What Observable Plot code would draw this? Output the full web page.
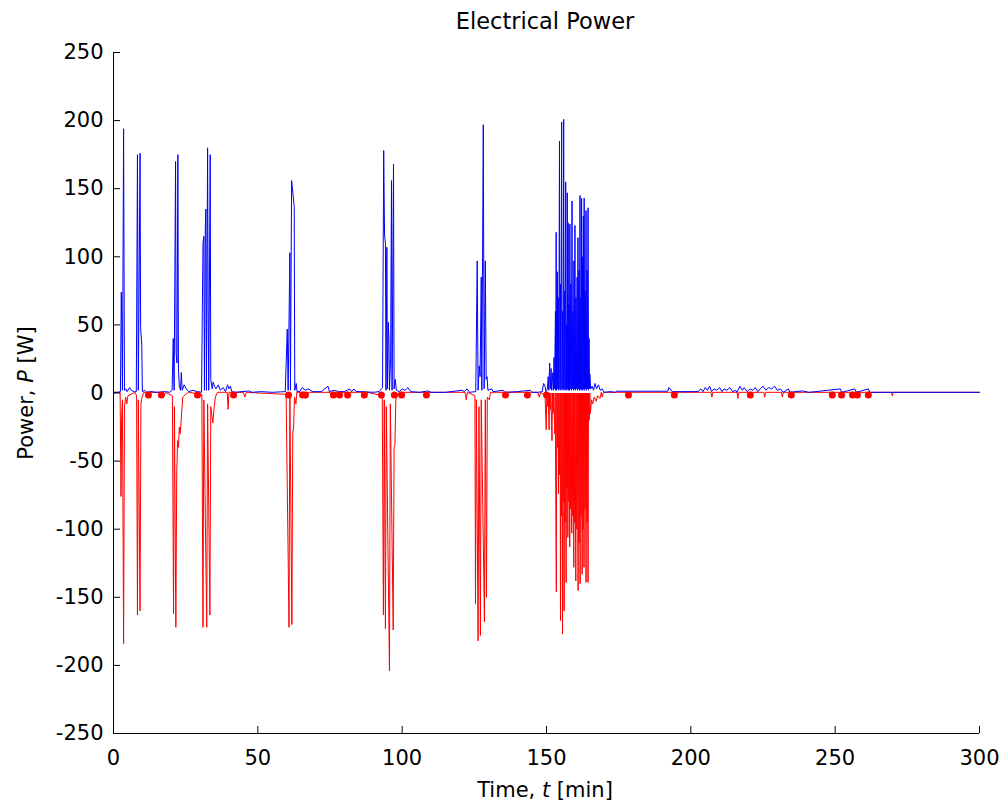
<!DOCTYPE html>
<html><head><meta charset="utf-8">
<script src="https://cdn.jsdelivr.net/npm/d3@7"></script>
<script src="https://cdn.jsdelivr.net/npm/@observablehq/plot@0.6"></script>
<style>body{margin:0;background:#fff}</style>
</head><body><div id="chart"></div>
<script>
const titleText = "Electrical Power";
const xTicks = [0, 50, 100, 150, 200, 250, 300];
const yTicks = [-250, -200, -150, -100, -50, 0, 50, 100, 150, 200, 250];

// positive power (blue) [time min, power W]
const bluePoints = [
  [0,0.5],[1.5,0.5],[2.4,1],[2.7,74],[2.9,50],[3.1,2],[3.5,194],[3.8,2],[4.3,3],[4.7,1],[5.6,4],[6.2,2],[7.2,1],[7.9,1],
  [8.3,175],[8.6,2],[9.2,176],[9.4,48],[9.8,35],[10.0,1],[10.8,2],[11.5,0.5],[13,1],[15,0.5],[18,1],[19.5,0.5],[20.3,2],
  [20.7,40],[21.0,2],[21.5,170],[21.7,29],[22.0,22],[22.3,175],[22.5,18],[22.8,5],[23.2,2],[23.5,15],[23.8,2],[24.5,6],[25.2,3],[26,1],[27.5,2],[29,1],[30.5,0.5],
  [31.0,110],[31.3,115],[31.5,2],[31.8,120],[32.0,135],[32.2,2],[32.6,180],[32.8,60],[33.0,2],[33.5,175],[33.7,10],[34.2,3],[34.5,8],[35,5],[35.5,3],[36.3,6],[37,2],[38,4],[38.8,1],[39.5,6],[40,3],[40.5,5],[41,1],[42,0.5],
  [47,1.5],[48,0.5],[51,1],[55,0.5],[59.5,1],
  [60.2,47],[60.5,2],[61.1,103],[61.3,2],[61.7,156],[62.6,137],[62.8,2],[63.3,7],[63.6,1],[64.5,1],[65.4,4],[66.5,2],[67.5,3],[69,1],[72,1],[74.3,5],[74.8,1],[76.5,2],[78,1],[80,1],[81.8,3],[82.5,1],[83.3,3],[84,1],[86,1],[90,0.5],[92,1],[93.2,4],
  [93.6,178],[93.9,116],[94.2,110],[94.4,2],[94.7,107],[94.9,3],[95.2,52],[95.4,40],[95.6,2],[96.0,25],[96.3,156],[96.5,2],[97.0,168],[97.2,3],[97.6,10],[98,2],[99,1],[100,3],[101,2],[102,4],[103,1],[106,0.5],
  [109,1.5],[110,0.5],[115,0.5],[120.8,2],[121.5,1],[122.5,3],[123.3,0.5],[125.5,1],
  [126.0,97],[126.3,2],[126.7,20],[127.0,12],[127.4,85],[127.6,2],[128.1,197],[128.4,3],[128.8,97],[129.1,10],[129.4,12],[129.7,2],[131,3],[131.5,1],[135,2],[135.5,0.5],[140,1],[144.4,2],[145,0.5],[147,0.5],
  [148.5,1],[149.0,7],[149.5,5],[149.8,1],[150.3,3],[150.6,12],[150.8,2],[151.1,22],[151.3,3],[151.6,18],[151.8,2],[152.2,15],[152.4,2],[152.6,26],[152.8,3],
  [153.1,60],[153.2,2],[153.35,118],[153.5,2],[153.75,89],[153.9,3],[154.1,70],[154.25,2],[154.5,185],[154.65,3],[154.85,80],[155.0,2],[155.25,199],[155.4,3],[155.6,60],[155.75,2],[155.95,201],[156.1,3],[156.3,75],[156.45,2],[156.65,155],[156.8,3],[156.95,50],[157.05,2],[157.2,147],[157.35,3],[157.5,125],[157.65,2],[157.8,65],[157.95,2],[158.1,124],[158.25,3],[158.45,80],[158.6,2],[158.85,141],[159.0,3],[159.2,60],[159.35,2],[159.5,97],[159.65,3],[159.85,123],[160.0,2],[160.2,70],[160.35,3],[160.6,85],[160.75,2],[160.9,114],[161.05,3],[161.25,90],[161.4,2],[161.6,145],[161.75,3],[161.9,70],[162.0,2],[162.15,143],[162.3,3],[162.45,100],[162.6,2],[162.75,130],[162.9,3],[163.05,143],[163.2,2],[163.4,75],[163.55,3],[163.7,134],[163.85,2],[164.05,90],[164.2,3],[164.4,136],[164.55,2],[164.75,40],[164.9,3],[165.0,14],[165.3,3],
  [165.8,5],[166.3,2],[166.8,7],[167.3,3],[168,6],[168.6,2],[169.3,3],[170,0.5],[172,1],[173.9,0.5],[174.2,1.3],[192,1.3],[192.4,4],[193.6,1],[202.5,1],
  [203.5,3],[204.2,1],[205,4],[205.7,2],[206.5,5],[207.2,1],[208,3],[209,2],[210,4],[210.8,1],[211.5,3],[212.5,2],[213.5,4],[214.5,1],[215.5,2],[216,0.5],[217,5],[217.8,2],[218.5,4],[219.5,1],[220.5,3],[221.5,2],[222.3,4],[223.2,1],[224,3],[225,5],[226,2],[227,4],[228,3],[229,5],[230,2],[231,3],[232,0.5],
  [233.8,3],[234.3,0.5],[238.6,1.5],[241,0.5],[251.8,3],[252.3,0.5],[256.8,3],[257.3,0.5],[261.5,3],[262,0.5],[270,0.5],[300,0.5]
];

// negative power (red) [time min, power W]
const redPoints = [
  [0,0.5],[2.3,0.5],[2.6,-76],[2.8,-20],[3.1,-5],[3.5,-184],[3.8,-10],[4.2,-3],[4.6,-8],[5,-2],[7.5,0.5],[8.0,-2],
  [8.3,-163],[8.6,-5],[9.2,-160],[9.5,-8],[9.9,-3],[10.5,0.5],[17,0.5],[17.5,-2],[18,0.5],[20.4,-2],
  [20.8,-162],[21.1,-10],[21.6,-172],[21.9,-60],[22.2,-35],[22.5,-40],[22.8,-25],[23.1,-30],[23.5,-18],[24,-3],[25,-1],[26,0.5],[30.6,-1],
  [31.0,-172],[31.3,-5],[32.3,-172],[32.6,-8],[33.4,-163],[33.7,-10],[34.4,-22],[34.9,-10],[35.3,-3],[36,0.5],[39.4,0.5],[39.7,-12],[40,0.5],[42,0.5],
  [45,0.5],[45.5,-3],[46,0.5],[59.8,-1],[60.8,-172],[61.1,-3],[61.8,-170],[62.1,-30],[62.4,-25],[62.7,-3],[63.2,-8],[63.5,0.5],[66,0.5],[66.5,-4],[67,0.5],[75,0.5],[75.5,-3],[76,0.5],[87,0.5],[87.5,-2],[88,0.5],[93.1,-2],
  [93.5,-163],[93.8,-5],[94.2,-173],[94.5,-10],[95.6,-204],[95.9,-8],[96.9,-174],[97.2,-40],[97.5,-38],[97.8,-5],[98.3,-2],[99,0.5],[108,0.5],[108.5,-3],[109,0.5],[121.8,0.5],[122.2,-5],[122.6,0.5],[125.2,-2],
  [125.4,-155],[125.7,-5],[126.3,-182],[126.6,-10],[127.1,-178],[127.4,-5],[128.5,-168],[128.8,-5],[129.2,-150],[129.5,-3],[130.2,-5],[130.6,0.5],[147,0.5],[147.5,-3],[148,0.5],[149.5,-2],
  [149.9,-27],[150.1,0],[150.45,-10],[150.6,0],[150.9,-27],[151.05,0],[151.4,-12],[151.5,0],[151.9,-35],[152.05,0],[152.3,-15],[152.45,0],[152.9,-30],[153.0,0],
  [153.4,-146],[153.55,0],[153.8,-40],[153.95,0],[154.15,-74],[154.3,0],[154.55,-60],[154.7,0],[154.85,-167],[155.0,0],[155.2,-90],[155.3,0],[155.55,-177],[155.7,0],[155.85,-80],[155.95,0],[156.1,-160],[156.25,0],[156.45,-95],[156.6,0],[156.8,-139],[156.95,0],[157.1,-70],[157.2,0],[157.4,-106],[157.55,0],[157.75,-80],[157.85,0],[158.05,-113],[158.2,0],[158.4,-85],[158.5,0],[158.75,-103],[158.9,0],[159.1,-90],[159.25,0],[159.45,-128],[159.6,0],[159.8,-95],[159.9,0],[160.15,-138],[160.3,0],[160.5,-100],[160.65,0],[160.95,-145],[161.1,0],[161.3,-110],[161.45,0],[161.65,-140],[161.8,0],[161.95,-90],[162.1,0],[162.35,-133],[162.5,0],[162.65,-100],[162.8,0],[163.0,-128],[163.15,0],[163.35,-85],[163.5,0],[163.7,-139],[163.85,0],[164.0,-95],[164.15,0],[164.4,-139],[164.55,0],[164.8,-20],[165.0,0],[165.2,-15],[165.6,-5],
  [166,-8],[166.5,-3],[167.2,-6],[167.7,-2],[168.5,-4],[169,0.5],
  [169.3,-3],[169.7,0.5],[207,0.5],[207.3,-3],[207.6,0.5],[216,0.5],[216.3,-4],[216.6,0.5],[225.3,0.5],[225.6,-3],[225.9,0.5],[231.4,0.5],[231.7,-3],[232,0.5],[269.5,0.5],[269.8,-2],[270.1,0.5],[300,0.5]
];

// red markers near zero
const dotTimes = [12.1,16.6,29.1,41.6,60.6,65.5,66.5,76.2,78.3,81.1,86.9,92.8,97.3,99.8,108.4,135.8,143.4,150.0,178.4,194.3,220.6,234.8,249.0,252.2,256.0,257.7,261.5];
const dotPower = -1.5;

const blue = bluePoints.map(([t, p]) => ({t, p}));
const red = redPoints.map(([t, p]) => ({t, p}));
const dots = dotTimes.map(t => ({t, p: dotPower}));

const W = 1008, H = 810, mL = 113, mR = 29, mT = 52, mB = 77;
const font = "'DejaVu Sans', 'Liberation Sans', sans-serif";

const plot = Plot.plot({
  width: W, height: H,
  marginLeft: mL, marginRight: mR, marginTop: mT, marginBottom: mB,
  style: {fontFamily: font, fontSize: "21px", background: "#fff", color: "#000", overflow: "visible"},
  x: {domain: [0, 300]},
  y: {domain: [-250, 250]},
  marks: [
    Plot.line(red, {x: "t", y: "p", stroke: "#ff0000", strokeWidth: 1}),
    Plot.line(blue, {x: "t", y: "p", stroke: "#0000ff", strokeWidth: 1}),
    Plot.dot(dots, {x: "t", y: "p", r: 3.5, fill: "#ff0000", stroke: null}),
    Plot.ruleY([-250], {stroke: "#000", strokeWidth: 1}),
    Plot.ruleX([0], {stroke: "#000", strokeWidth: 1}),
    Plot.tickX(xTicks, {x: d => d, insetTop: H - mT - mB - 7, stroke: "#000"}),
    Plot.tickY(yTicks, {y: d => d, insetRight: W - mL - mR - 7, stroke: "#000"}),
    Plot.axisX({ticks: xTicks, tickSize: 0, tickPadding: 17, label: null, fontSize: 21, tickFormat: d => String(d)}),
    Plot.axisY({ticks: yTicks, tickSize: 0, tickPadding: 10, label: null, fontSize: 21, tickFormat: d => String(d)})
  ]
});

const svg = d3.select(plot);
svg.append("text")
  .attr("x", 545).attr("y", 29)
  .attr("text-anchor", "middle").attr("font-size", 22.5).attr("fill", "#000")
  .text(titleText);

const xl = svg.append("text")
  .attr("x", 545).attr("y", 797)
  .attr("text-anchor", "middle").attr("font-size", 21).attr("fill", "#000");
xl.append("tspan").text("Time, ");
xl.append("tspan").attr("font-style", "italic").text("t");
xl.append("tspan").text(" [min]");

const yl = svg.append("text")
  .attr("transform", "translate(33,393) rotate(-90)")
  .attr("text-anchor", "middle").attr("font-size", 21).attr("fill", "#000");
yl.append("tspan").text("Power, ");
yl.append("tspan").attr("font-style", "italic").text("P");
yl.append("tspan").text(" [W]");

document.getElementById("chart").appendChild(plot);
</script>
</body></html>
